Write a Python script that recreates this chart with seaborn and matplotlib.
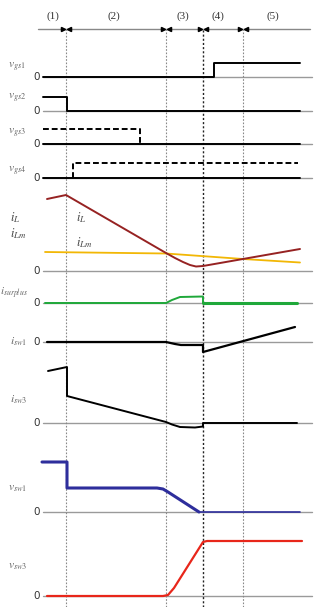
import matplotlib
matplotlib.use("Agg")
import matplotlib.pyplot as plt
import seaborn as sns
import pandas as pd

sns.set_style("white")
plt.rcParams['mathtext.fontset'] = 'stix'

# marcadores de intervalo (tempo)
t_marks = [23, 123, 160, 200]
interval_labels = ['(1)', '(2)', '(3)', '(4)', '(5)']
interval_t = [10, 71, 140, 175, 230]

# formas de onda: tempo e valor
vgs1_t = [0, 171, 171, 257]
vgs1_v = [0, 0, 14, 14]
vgs2_t = [0, 24, 24, 257]
vgs2_v = [14, 14, 0, 0]
vgs3_t = [0, 257]
vgs3_v = [0, 0]
vgs3_dash_t = [0, 97, 97]
vgs3_dash_v = [15, 15, 0]
vgs4_t = [0, 257]
vgs4_v = [0, 0]
vgs4_dash_t = [30, 30, 255]
vgs4_dash_v = [0, 15, 15]
iL_t = [4, 23, 123, 132, 140, 147, 153, 160, 257]
iL_v = [72, 76, 18, 13, 9, 6, 4.5, 5, 22]
iLm_t = [2, 123, 200, 257]
iLm_v = [19, 17.5, 12, 8.5]
isur_t = [2, 123, 129, 137, 160, 160]
isur_v = [0, 0, 3, 6, 6.5, 0]
isur2_t = [160, 254]
isur2_v = [0, 0]
isw1_t = [4, 123, 132, 138, 160, 160, 252]
isw1_v = [0, 0, -2, -3, -3, -10, 15]
isw3_t = [5, 24, 24, 123, 129, 137, 152, 160, 160, 254]
isw3_v = [52, 56, 27, 1, -1.5, -4, -4.5, -3.5, 0, 0]
vsw1_t = [-1, 24, 24, 114, 120, 125, 156]
vsw1_v = [50, 50, 24, 24, 23, 20, 0]
vsw1b_t = [156, 257]
vsw1b_v = [0, 0]
vsw3_t = [4, 120, 125, 131, 160, 164, 259]
vsw3_v = [0, 0, 1, 8, 54, 55, 55]

# layout: linha de zero de cada canal (pixels a partir do topo)
H = 607
base = {'vgs1': 77, 'vgs2': 111, 'vgs3': 144, 'vgs4': 178, 'iL': 271,
        'isur': 303, 'isw1': 342, 'isw3': 423, 'vsw1': 512, 'vsw3': 596}
names = {'vgs1': (r'$v_{gs1}$', 67, -35), 'vgs2': (r'$v_{gs2}$', 98, -35),
         'vgs3': (r'$v_{gs3}$', 133, -35), 'vgs4': (r'$v_{gs4}$', 171, -35),
         'isur': (r'$i_{surplus}$', 293, -43), 'isw1': (r'$i_{sw1}$', 342, -33),
         'isw3': (r'$i_{sw3}$', 400, -33), 'vsw1': (r'$v_{sw1}$', 487, -35),
         'vsw3': (r'$v_{sw3}$', 566, -35)}

fig = plt.figure(figsize=(3.15, 6.07), dpi=100)
ax = fig.add_axes([0, 0, 1, 1])
ax.set_xlim(-43, 272)
ax.set_ylim(0, H)
ax.axis('off')

def y0(key):
    return H - base[key]

def trace(t, v, key, color='black', lw=1.4, ls='-'):
    df = pd.DataFrame({'t': t, 'v': [y0(key) + a for a in v]})
    sns.lineplot(data=df, x='t', y='v', estimator=None, sort=False,
                 color=color, linewidth=lw, linestyle=ls, ax=ax)

# linhas de zero
for k in base:
    ax.plot([0, 269], [y0(k), y0(k)], color='#9a9a9a', lw=1.0, zorder=0)
    ax.text(-3, y0(k), '0', ha='right', va='center', fontsize=7.5,
            color='#333333', family='DejaVu Sans')

for k, (lab, yp, xp) in names.items():
    ax.text(xp, H - yp, lab, ha='left', va='center', fontsize=8.5 if k != 'isur' else 8,
            color='#666666')
ax.text(-33, H - 218, r'$i_L$', ha='left', va='center', fontsize=9, color='#444444')
ax.text(-33, H - 234, r'$i_{Lm}$', ha='left', va='center', fontsize=9, color='#444444')
ax.text(33, H - 218, r'$i_L$', ha='left', va='center', fontsize=9, color='#444444')
ax.text(33, H - 243, r'$i_{Lm}$', ha='left', va='center', fontsize=9, color='#444444')

# eixo superior com marcadores
ax.plot([-5, 267], [H - 29, H - 29], color='#888888', lw=1.0)
for tm in t_marks:
    ax.plot(tm - 3, H - 29, marker='>', ms=3, color='black')
    ax.plot(tm + 3, H - 29, marker='<', ms=3, color='black')
for lab, tl in zip(interval_labels, interval_t):
    ax.text(tl, H - 16, lab, ha='center', va='center', fontsize=8,
            family='Liberation Serif', color='#333333')

# linhas verticais tracejadas
for tm in t_marks:
    dark = tm == 160
    ax.vlines(tm, 0, H - 29, colors='#222222' if dark else '#888888',
              linestyles=(0, (1.5, 1.5)), lw=1.0 if dark else 0.8, zorder=0)

trace(vgs1_t, vgs1_v, 'vgs1')
trace(vgs2_t, vgs2_v, 'vgs2')
trace(vgs3_t, vgs3_v, 'vgs3')
trace(vgs3_dash_t, vgs3_dash_v, 'vgs3', ls=(0, (3, 1.5)))
trace(vgs4_t, vgs4_v, 'vgs4')
trace(vgs4_dash_t, vgs4_dash_v, 'vgs4', ls=(0, (3, 1.5)))
trace(iLm_t, iLm_v, 'iL', color='#f2b705', lw=1.3)
trace(iL_t, iL_v, 'iL', color='#962222', lw=1.4)
trace(isur_t, isur_v, 'isur', color='#1fa83a', lw=1.4)
trace(isur2_t, isur2_v, 'isur', color='#1fa83a', lw=2.2)
trace(isw1_t, isw1_v, 'isw1', lw=1.6)
trace(isw3_t, isw3_v, 'isw3', lw=1.4)
trace(vsw1_t, vsw1_v, 'vsw1', color='#2e2e9c', lw=2.2)
trace(vsw1b_t, vsw1b_v, 'vsw1', color='#2e2e9c', lw=1.2)
trace(vsw3_t, vsw3_v, 'vsw3', color='#e8261a', lw=1.6)

fig.savefig('out.png', dpi=100)
